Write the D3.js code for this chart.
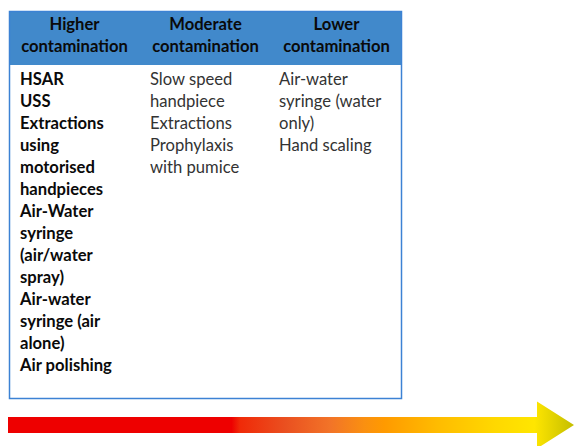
<!DOCTYPE html>
<html>
<head>
<meta charset="utf-8">
<script src="https://cdn.jsdelivr.net/npm/d3@7"></script>
<style>
  html, body { margin: 0; padding: 0; background: #fff; }
  svg { display: block; }
</style>
</head>
<body>
<svg id="chart" width="574" height="446"></svg>
<script>
// Column headers (each header split over two lines, as drawn)
const categories = ["Higher contamination", "Moderate contamination", "Lower contamination"];
const headerLines = [
  ["Higher", "contamination"],
  ["Moderate", "contamination"],
  ["Lower", "contamination"]
];
// Procedures listed in each column (lines as wrapped in the reference)
const higherItems = ["HSAR", "USS", "Extractions", "using", "motorised", "handpieces",
  "Air-Water", "syringe", "(air/water", "spray)", "Air-water", "syringe (air", "alone)", "Air polishing"];
const moderateItems = ["Slow speed", "handpiece", "Extractions", "Prophylaxis", "with pumice"];
const lowerItems = ["Air-water", "syringe (water", "only)", "Hand scaling"];
const columnItems = [higherItems, moderateItems, lowerItems];
const columnBold = [true, false, false];
// Arrow gradient (higher -> lower contamination)
const gradientStops = [
  [0.00, "#EE0000"], [0.395, "#EE0000"], [0.41, "#F02A08"], [0.49, "#EA5020"],
  [0.57, "#F27428"], [0.63, "#FA9010"], [0.665, "#FF9A00"], [0.76, "#FFBC00"],
  [0.86, "#FFD800"], [0.93, "#FFE600"], [1.00, "#C4BE00"]
];

const svg = d3.select("#chart");
const FONT = "Lato, 'Open Sans', sans-serif";
const FS = 16.6;

const tableLeft = 9, tableRight = 402, tableTop = 11, headerBottom = 65, tableBottom = 399;
const x = d3.scaleBand().domain(categories).range([tableLeft, tableRight]).paddingInner(0);
const lineY = d3.scaleLinear().domain([0, 1]).range([85, 107]);   // body line baselines
const headY = d3.scaleLinear().domain([0, 1]).range([30, 52]);    // header line baselines

// table body
svg.append("rect")
  .attr("x", tableLeft).attr("y", tableTop)
  .attr("width", tableRight - tableLeft).attr("height", tableBottom - tableTop)
  .attr("fill", "#fff");
// header
svg.append("rect")
  .attr("x", tableLeft).attr("y", tableTop)
  .attr("width", tableRight - tableLeft).attr("height", headerBottom - tableTop)
  .attr("fill", "#4189CB");
// outer border
svg.append("rect")
  .attr("x", tableLeft + 0.5).attr("y", tableTop + 0.5)
  .attr("width", tableRight - tableLeft - 1).attr("height", tableBottom - tableTop - 1)
  .attr("fill", "none").attr("stroke", "#3C82D4").attr("stroke-width", 1.5);

// header text
categories.forEach((c, i) => {
  svg.append("text")
    .attr("x", x(c) + x.bandwidth() / 2)
    .attr("text-anchor", "middle")
    .attr("font-family", FONT).attr("font-size", FS).attr("font-weight", "bold")
    .attr("fill", "#0a0a0a")
    .selectAll("tspan").data(headerLines[i]).join("tspan")
    .attr("x", x(c) + x.bandwidth() / 2)
    .attr("y", (d, j) => headY(j))
    .text(d => d);
});

// body text
const textLeft = [20, 150, 279];
categories.forEach((c, i) => {
  svg.append("g")
    .selectAll("text").data(columnItems[i]).join("text")
    .attr("x", textLeft[i])
    .attr("y", (d, j) => lineY(j))
    .attr("font-family", FONT).attr("font-size", FS)
    .attr("font-weight", columnBold[i] ? "bold" : "normal")
    .attr("fill", columnBold[i] ? "#0a0a0a" : "#333")
    .text(d => d);
});

// arrow with gradient
const defs = svg.append("defs");
const grad = defs.append("linearGradient").attr("id", "arrowGrad")
  .attr("gradientUnits", "userSpaceOnUse")
  .attr("x1", 8).attr("x2", 574).attr("y1", 0).attr("y2", 0);
grad.selectAll("stop").data(gradientStops).join("stop")
  .attr("offset", d => d[0]).attr("stop-color", d => d[1]);

const shaftL = 8, headL = 537, tipX = 574, cy = 425, shaftH = 8, headH = 23.5;
const arrowPts = [
  [shaftL, cy - shaftH], [headL, cy - shaftH], [headL, cy - headH], [tipX, cy],
  [headL, cy + headH], [headL, cy + shaftH], [shaftL, cy + shaftH]
];
svg.append("path")
  .attr("d", d3.line()(arrowPts) + "Z")
  .attr("fill", "url(#arrowGrad)");
</script>
</body>
</html>
